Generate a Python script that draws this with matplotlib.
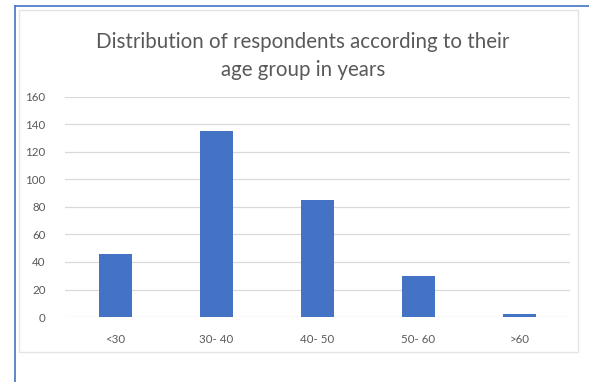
import matplotlib
matplotlib.use("Agg")
import matplotlib.pyplot as plt
from matplotlib.patches import Rectangle
from matplotlib.lines import Line2D

categories = ["<30", "30- 40", "40- 50", "50- 60", ">60"]
values = [46, 135, 85, 30, 2]
yticks = [0, 20, 40, 60, 80, 100, 120, 140, 160]
title = "Distribution of respondents according to their\nage group in years"

plt.rcParams['font.family'] = ['Lato', 'DejaVu Sans']

W, H = 589, 382
fig = plt.figure(figsize=(W / 100, H / 100), dpi=100)
fig.patch.set_facecolor("white")

# inner chart frame
fig.add_artist(Rectangle((19 / W, 1 - 352 / H), (578 - 19) / W, (352 - 10) / H,
                         transform=fig.transFigure, fill=False,
                         edgecolor="#E4E4E4", linewidth=1.0))
# blue outer border (left and top)
fig.add_artist(Line2D([15 / W, 15 / W], [0, 1 - 6 / H], transform=fig.transFigure,
                      color="#4472C4", linewidth=1.2))
fig.add_artist(Line2D([15 / W, 1], [1 - 6 / H, 1 - 6 / H], transform=fig.transFigure,
                      color="#4472C4", linewidth=1.2))

ax = fig.add_axes([65 / W, 65 / H, (570 - 65) / W, (317 - 97) / H])
x = list(range(len(categories)))
ax.bar(x, values, width=0.32, color="#4472C4", zorder=3)
ax.set_xlim(-0.5, len(categories) - 0.5)
ax.set_ylim(0, 160)
ax.set_yticks(yticks)
ax.set_xticks(x)
ax.set_xticklabels(categories)
for s in ax.spines.values():
    s.set_visible(False)
ax.grid(axis="y", color="#D9D9D9", linewidth=0.9, zorder=0)
ax.tick_params(axis="both", length=0, labelsize=8.3, colors="#595959")
ax.tick_params(axis="y", pad=14)
ax.tick_params(axis="x", pad=12)

fig.text(303 / W, 1 - 56 / H, title, ha="center", va="center", fontsize=14.8,
         color="#595959", linespacing=1.5)

fig.savefig("out.png", dpi=100, facecolor="white")
